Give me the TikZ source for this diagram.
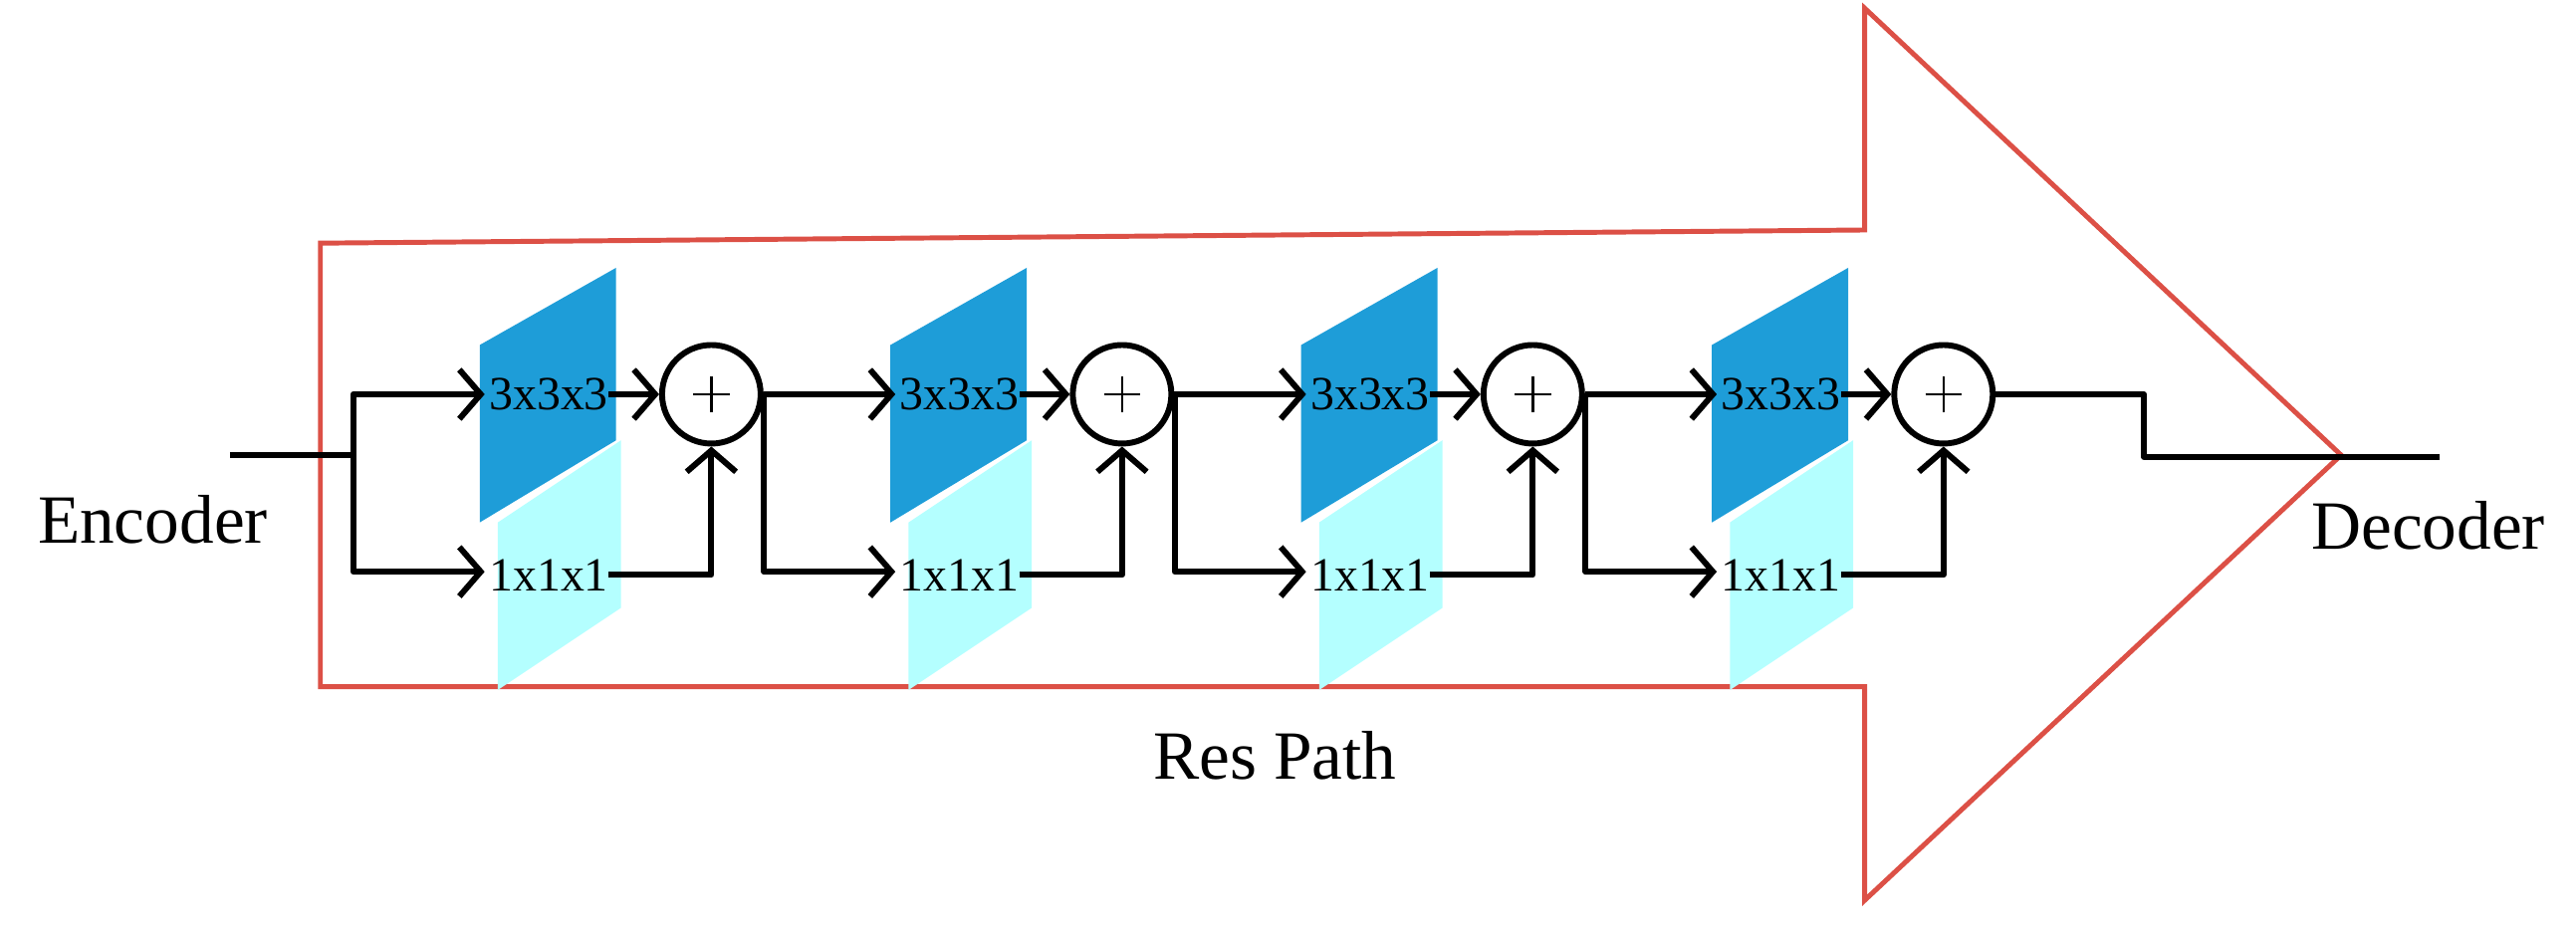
\documentclass[tikz,border=0pt]{standalone}
\usepackage{fontspec}
\setmainfont{Liberation Serif}
\usetikzlibrary{arrows.meta}
\definecolor{dk}{RGB}{30,157,216}
\definecolor{lt}{RGB}{180,255,255}
\definecolor{rd}{RGB}{220,80,70}
\begin{document}
\begin{tikzpicture}[x=1pt,y=-1pt,
  ln/.style={line width=3.6pt,line join=round},
  ar/.style={ln,-{Straight Barb[length=13pt,width=30pt,line width=3.6pt]}},
  sm/.style={circle,draw,line width=3.6pt,minimum size=60pt,inner sep=0pt,
    path picture={\draw[line width=1.6pt] ([xshift=-11pt]path picture bounding box.center) -- ([xshift=11pt]path picture bounding box.center) ([yshift=-11pt]path picture bounding box.center) -- ([yshift=11pt]path picture bounding box.center);}},
  lab/.style={font=\fontsize{42}{46}\selectfont},
  kl/.style={font=\fontsize{29}{32}\selectfont,inner sep=0pt}]
\useasboundingbox (0,0) rectangle (1568,570);
\draw[rd,line width=3pt] (195,148) -- (1135,140) -- (1135,5) -- (1425,277) -- (1135,548) -- (1135,418) -- (195,418) -- cycle;
\node[lab] (enc) at (93,316) {Encoder};
\node[lab] (dec) at (1478,320) {Decoder};
\node[lab] (res) at (776,460) {Res Path};
\coordinate (in) at (140,277);
\coordinate (b0) at (215,277);
\foreach \i in {0,1,2,3}{
  \pgfmathsetmacro{\o}{250*\i}
  \begin{scope}[xshift=\o pt]
    \fill[dk] (292,210) -- (375,163) -- (375,268) -- (292,318) -- cycle;
    \fill[lt] (303,318) -- (378,268) -- (378,370) -- (303,420) -- cycle;
    \node[kl] (k3-\i) at (334,240) {3x3x3};
    \node[kl] (k1-\i) at (334,350) {1x1x1};
    \node[sm] (s\i) at (433,240) {};
    \coordinate (a\i) at (295,240);
    \coordinate (c\i) at (295,348);
    \coordinate (br\i) at (465,240);
  \end{scope}
}
\draw[ln] (in) -- (b0);
\draw[ar] (b0) |- (a0);
\draw[ar] (b0) |- (c0);
\foreach \i/\j in {0/1,1/2,2/3}{
  \draw[ar] (s\i.east) -- (a\j);
  \draw[ar] (br\i) |- (c\j);
}
\foreach \i in {0,1,2,3}{
  \draw[ar] (k3-\i.east) -- (s\i.west);
  \draw[ar] (k1-\i.east) -| (s\i.south);
}
\coordinate (o1) at (1305,240);
\coordinate (out) at (1485,278);
\draw[ln] (s3.east) -- (o1) -- (1305,278) -- (out);
\end{tikzpicture}
\end{document}
